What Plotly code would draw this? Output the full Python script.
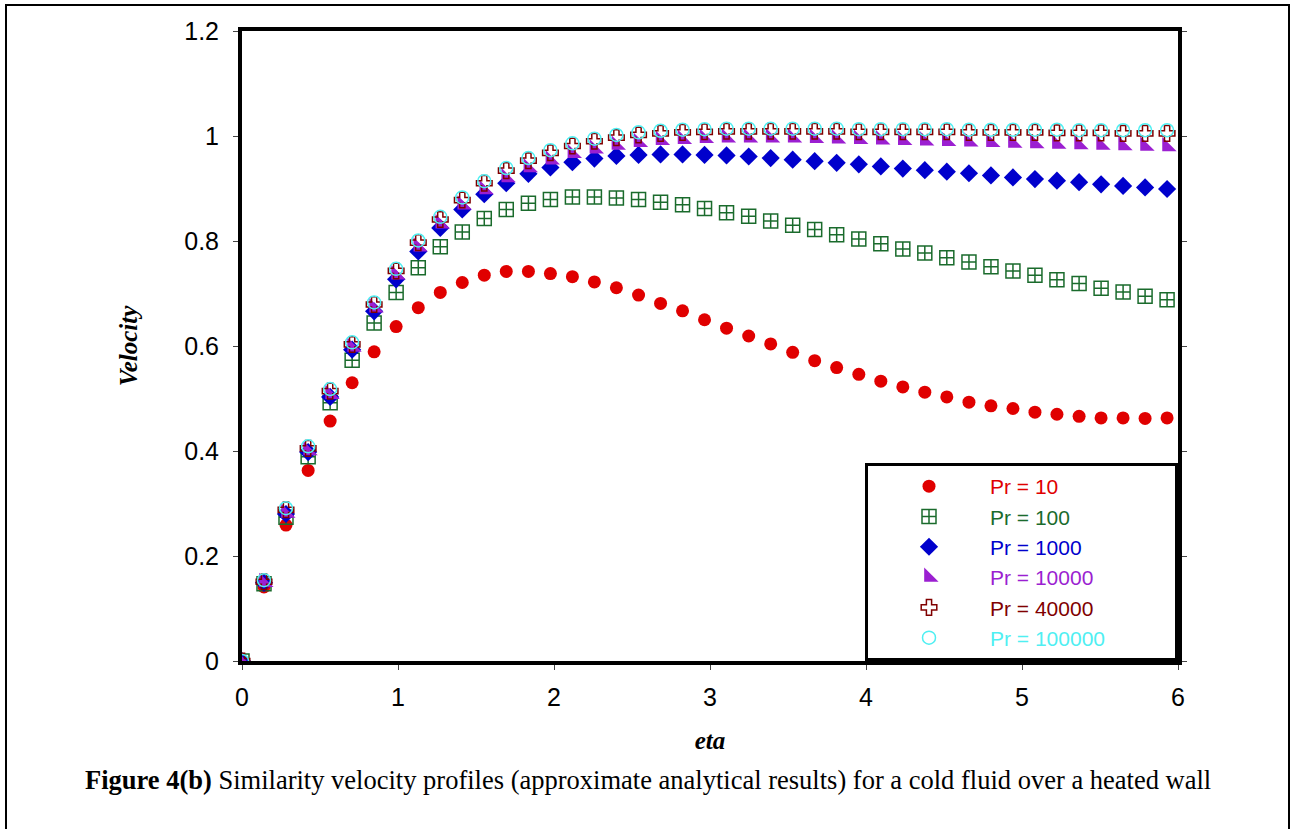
import plotly.graph_objects as go

eta = [0, 0.141, 0.282, 0.424, 0.565, 0.706, 0.847, 0.988, 1.130, 1.271, 1.412,
       1.553, 1.694, 1.836, 1.977, 2.118, 2.259, 2.400, 2.542, 2.683, 2.824,
       2.965, 3.106, 3.248, 3.389, 3.530, 3.671, 3.812, 3.954, 4.095, 4.236,
       4.377, 4.518, 4.660, 4.801, 4.942, 5.083, 5.224, 5.366, 5.507, 5.648,
       5.789, 5.930]

pr10 = [0, 0.141, 0.259, 0.363, 0.457, 0.530, 0.589, 0.637, 0.673, 0.702, 0.721,
        0.735, 0.742, 0.742, 0.738, 0.732, 0.722, 0.711, 0.697, 0.681, 0.667,
        0.650, 0.634, 0.619, 0.604, 0.588, 0.572, 0.559, 0.546, 0.533, 0.522,
        0.512, 0.503, 0.493, 0.486, 0.481, 0.474, 0.470, 0.466, 0.463, 0.463,
        0.462, 0.463]

pr100 = [0, 0.147, 0.274, 0.389, 0.492, 0.573, 0.644, 0.702, 0.749, 0.789, 0.817,
         0.843, 0.860, 0.872, 0.879, 0.884, 0.884, 0.882, 0.879, 0.874, 0.869,
         0.862, 0.854, 0.847, 0.838, 0.830, 0.822, 0.812, 0.804, 0.795, 0.785,
         0.777, 0.768, 0.760, 0.751, 0.743, 0.735, 0.726, 0.719, 0.710, 0.703,
         0.695, 0.688]

pr1000 = [0, 0.149, 0.280, 0.398, 0.503, 0.593, 0.666, 0.727, 0.780, 0.825, 0.860,
          0.889, 0.910, 0.928, 0.940, 0.950, 0.957, 0.962, 0.964, 0.965, 0.965,
          0.964, 0.963, 0.961, 0.958, 0.955, 0.952, 0.949, 0.946, 0.942, 0.938,
          0.935, 0.932, 0.929, 0.925, 0.921, 0.918, 0.915, 0.912, 0.908, 0.905,
          0.902, 0.899]

pr10000 = [0, 0.150, 0.282, 0.401, 0.508, 0.598, 0.673, 0.736, 0.789, 0.833, 0.869,
           0.898, 0.921, 0.940, 0.955, 0.967, 0.976, 0.983, 0.988, 0.992, 0.994,
           0.996, 0.997, 0.997, 0.997, 0.997, 0.996, 0.995, 0.994, 0.993, 0.992,
           0.991, 0.990, 0.989, 0.988, 0.987, 0.986, 0.985, 0.984, 0.983, 0.982,
           0.981, 0.980]

pr40000 = [0, 0.151, 0.288, 0.405, 0.514, 0.603, 0.679, 0.743, 0.797, 0.841, 0.878,
           0.910, 0.934, 0.953, 0.968, 0.981, 0.990, 0.997, 1.002, 1.005, 1.007,
           1.008, 1.009, 1.009, 1.009, 1.009, 1.009, 1.009, 1.008, 1.008, 1.008,
           1.008, 1.008, 1.007, 1.007, 1.007, 1.007, 1.006, 1.006, 1.006, 1.005,
           1.005, 1.005]

pr100000 = [0, 0.154, 0.291, 0.409, 0.518, 0.607, 0.683, 0.747, 0.801, 0.846, 0.883,
            0.914, 0.939, 0.958, 0.973, 0.986, 0.995, 1.002, 1.007, 1.010, 1.012,
            1.013, 1.014, 1.014, 1.014, 1.014, 1.014, 1.014, 1.013, 1.013, 1.013,
            1.013, 1.013, 1.012, 1.012, 1.012, 1.012, 1.012, 1.011, 1.011, 1.011,
            1.011, 1.011]

series = [
    ("Pr = 10", pr10, "#E00000", "circle", 13, None),
    ("Pr = 100", pr100, "#1A6B2C", "square-cross-open", 14, 1.5),
    ("Pr = 1000", pr1000, "#0000CC", "diamond", 14, None),
    ("Pr = 10000", pr10000, "#9B1FD1", "triangle-sw", 16, None),
    ("Pr = 40000", pr40000, "#800000", "cross-open", 13, 1.5),
    ("Pr = 100000", pr100000, "#4FEFF2", "circle-open", 13, 1.5),
]

PAD = "\u00a0" * 11  # invisible padding so the legend box reaches the reference width

fig = go.Figure()
for name, vals, col, sym, size, lw in series:
    marker = dict(symbol=sym, size=size, color=col)
    if lw is not None:
        marker["line"] = dict(color=col, width=lw)
    else:
        marker["line"] = dict(width=0)
    fig.add_trace(go.Scatter(
        x=eta, y=vals, mode="markers", marker=marker,
        name=f"<span style='color:{col}'>{name}</span>{PAD}",
    ))

fig.update_layout(
    width=1292, height=829,
    margin=dict(l=242, r=114, t=31, b=168),
    plot_bgcolor="white", paper_bgcolor="white",
    font=dict(family="Liberation Sans, Arial", size=24, color="black"),
    showlegend=True,
    legend=dict(
        x=(865 - 242) / 936, y=(661 - 463) / 630, xanchor="left", yanchor="top",
        bordercolor="black", borderwidth=3, bgcolor="white",
        font=dict(family="Liberation Sans, Arial", size=21),
        itemwidth=112, tracegroupgap=0,
    ),
)

fig.update_xaxes(
    range=[0, 6], tickvals=[0, 1, 2, 3, 4, 5, 6], ticktext=["0", "1", "2", "3", "4", "5", "6"],
    showgrid=False, zeroline=False,
    showline=True, linecolor="black", linewidth=4, mirror=True,
    ticks="outside", ticklen=5, tickwidth=1, tickcolor="#444",
    ticklabelstandoff=6,
    tickfont=dict(size=25),
    title=dict(text="<b><i>eta</i></b>", font=dict(family="Liberation Serif, Times New Roman", size=25), standoff=22),
)
fig.update_yaxes(
    range=[0, 1.2], tickvals=[0, 0.2, 0.4, 0.6, 0.8, 1.0, 1.2],
    ticktext=["0", "0.2", "0.4", "0.6", "0.8", "1", "1.2"],
    showgrid=False, zeroline=False,
    showline=True, linecolor="black", linewidth=4, mirror="ticks",
    ticks="outside", ticklen=5, tickwidth=1, tickcolor="#444",
    ticklabelstandoff=9,
    tickfont=dict(size=25),
    title=dict(text="<b><i>Velocity</i></b>", font=dict(family="Liberation Serif, Times New Roman", size=25), standoff=40),
)

# outer figure frame
fig.add_shape(type="rect", xref="paper", yref="paper",
              x0=(6 - 242) / 936, x1=(1289 - 242) / 936,
              y0=-0.5, y1=(661 - 5) / 630,
              line=dict(color="black", width=2), fillcolor="rgba(0,0,0,0)", layer="below")

fig.add_annotation(
    xref="paper", yref="paper", x=(648 - 242) / 936, y=(661 - 780) / 630,
    xanchor="center", yanchor="middle", showarrow=False,
    text="<b>Figure 4(b)</b> Similarity velocity profiles (approximate analytical results) for a cold fluid over a heated wall",
    font=dict(family="Liberation Serif, Times New Roman", size=26.5, color="black"),
)

fig.write_html("out.html")
